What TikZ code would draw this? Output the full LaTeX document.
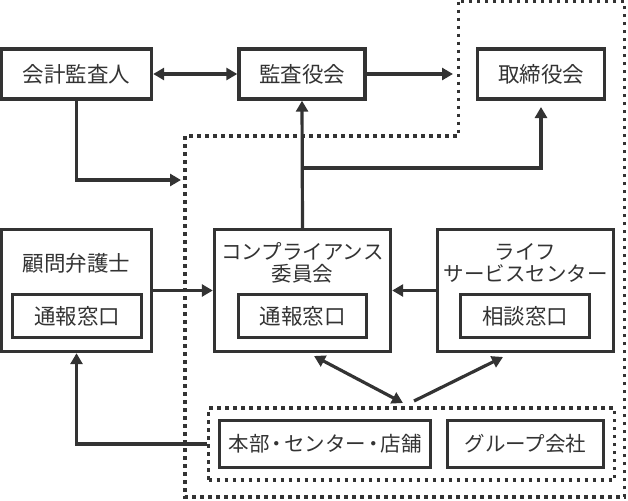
\documentclass[tikz,border=0pt]{standalone}
\usepackage{fontspec}
\setmainfont{Noto Sans CJK JP}
\usepackage{tikz}
\usetikzlibrary{calc, arrows.meta, positioning}

\definecolor{ink}{HTML}{333333}

\newcommand{\kanjisize}{\fontsize{21.5}{25}\selectfont}
\newcommand{\nakaguro}{\kern-3pt・\kern-3pt}

\tikzset{
	box/.style = {draw = ink, line width = 3.4pt, text = ink, inner sep = 0pt, align = center},
	dotline/.style = {draw = ink, line width = 3.5pt, dash pattern = on 3.5pt off 4.5pt},
	arr/.style = {draw = ink, line width = 3.2pt, -{Triangle[length = 11pt, width = 12pt]}},
	darr/.style = {draw = ink, line width = 3.2pt, {Triangle[length = 11pt, width = 12pt]}-{Triangle[length = 11pt, width = 12pt]}}
}

\begin{document}
\begin{tikzpicture}[x = 1pt, y = -1pt, font = \fontsize{20.5}{25}\selectfont]
		\useasboundingbox (0,0) rectangle (628,500);
		
		% upper row
		\node [box, font = \kanjisize, minimum width = 150, minimum height = 50] (kaikei) at (76.5,74) {会計監査人};
		\node [box, font = \kanjisize, minimum width = 126, minimum height = 50] (kansa) at (302,74) {監査役会};
		\node [box, font = \kanjisize, minimum width = 127, minimum height = 50] (torishimari) at (541,74) {取締役会};
		
		% middle row
		\node [box, minimum width = 150, minimum height = 122] (komon) at (76.5,290.5) {};
		\node [box, font = \kanjisize, minimum width = 129, minimum height = 43] (komonmado) at (77,316) {通報窓口};
		\node [text = ink, font = \kanjisize] (komontxt) at (76.5,263) {顧問弁護士};
		
		\node [box, minimum width = 176, minimum height = 122] (compla) at (302.5,290.5) {};
		\node [box, font = \kanjisize, minimum width = 128, minimum height = 43] (complamado) at (302.5,316) {通報窓口};
		\node [text = ink, align = center, inner sep = 0pt] (complatxt) at (302.5,262.5) {コンプライアンス\\[-3pt]委員会};
		
		\node [box, minimum width = 176, minimum height = 122] (life) at (525.5,290.5) {};
		\node [box, font = \kanjisize, minimum width = 129, minimum height = 43] (lifemado) at (525,316) {相談窓口};
		\node [text = ink, align = center, inner sep = 0pt] (lifetxt) at (525.5,262.5) {ライフ\\[-3pt]サービスセンター};
		
		% lower row
		\node [dotline, minimum width = 406, minimum height = 72] (genba) at (411.5,444) {};
		\node [box, minimum width = 211, minimum height = 47] (honbu) at (325,444) {本部\nakaguro センター\nakaguro 店舗};
		\node [box, minimum width = 156, minimum height = 47] (group) at (525.5,444) {グループ会社};
		
		% outer dotted area
		\draw [dotline] (458.5,1.7) -- (458.5,136) -- (185,136) -- (185,497) -- (624.5,497) -- (624.5,1.7) -- cycle;
		
		\coordinate (kansaend) at (453,74);
		\coordinate (kaikeiend) at (181,180);
		\coordinate (branch) at (302,168);
		\coordinate (toriend) at (541,107);
		\coordinate (dA) at (314,356);
		\coordinate (dB) at (403,403);
		\coordinate (sA) at (414,401);
		\coordinate (sB) at (503,357);
		
		\draw [darr] (kaikei) -- (kansa);
		\draw [arr] (kansa) -- (kansaend);
		\draw [arr] (kaikei.south) |- (kaikeiend);
		\draw [arr] (compla.north) -- (kansa.south);
		\draw [arr] (branch) -| (toriend);
		\draw [arr] (komon) -- (compla);
		\draw [arr] (life) -- (compla);
		\draw [darr] (dA) -- (dB);
		\draw [arr] (sA) -- (sB);
		\draw [arr] (genba.west) -| (komon.south);
	\end{tikzpicture}
\end{document}
